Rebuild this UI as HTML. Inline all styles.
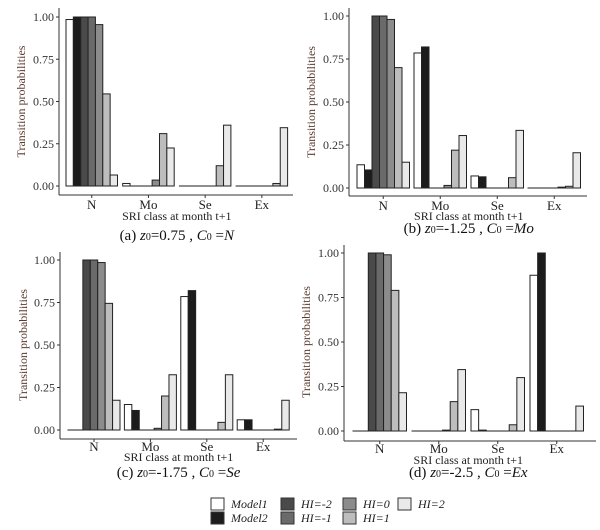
<!DOCTYPE html>
<html><head><meta charset="utf-8"><style>
body{margin:0;background:#fff;}
svg{display:block;font-family:"Liberation Serif",serif;}
</style></head><body>
<svg id="chart" width="600" height="530" viewBox="0 0 600 530"></svg>
<script>
const categories=["N","Mo","Se","Ex"];
const seriesNames=["Model1","Model2","HI=-2","HI=-1","HI=0","HI=1","HI=2"];
const yTicks=[0,0.25,0.5,0.75,1];
const yTickLabels=["0.00","0.25","0.50","0.75","1.00"];
const valuesA=[[0.985,1,1,1,0.955,0.545,0.065],[0.015,0,0,0,0.035,0.31,0.225],[0,0,0,0,0,0.12,0.36],[0,0,0,0,0,0.015,0.345]];
const valuesB=[[0.135,0.105,1,1,0.98,0.70,0.15],[0.785,0.82,0,0,0.015,0.22,0.305],[0.07,0.065,0,0,0,0.06,0.335],[0,0,0,0,0.005,0.01,0.205]];
const valuesC=[[0,0,1,1,0.985,0.745,0.175],[0.15,0.115,0,0,0.01,0.20,0.325],[0.785,0.82,0,0,0,0.045,0.325],[0.06,0.06,0,0,0,0.005,0.175]];
const valuesD=[[0,0,1,1,0.99,0.79,0.215],[0,0,0,0,0.005,0.165,0.345],[0.12,0.005,0,0,0,0.035,0.30],[0.875,1,0,0,0,0,0.14]];
const fills=["#ffffff","#1c1c1c","#4a4a4a","#6a6a6a","#8c8c8c","#bdbdbd","#e9e9e9"];
const NS="http://www.w3.org/2000/svg";
const svg=document.getElementById('chart');
function mk(tag,attrs,parent,text){const e=document.createElementNS(NS,tag);for(const k in attrs)e.setAttribute(k,attrs[k]);if(text!==undefined)e.textContent=text;(parent||svg).appendChild(e);return e;}
const panels=[
 {id:"a",vals:valuesA,ax:59,y1:17,y0:186,xaxY:195,right:293,top:8,g0:66,step:56.7,gw:51.5,ylx:25,catY:209,xlY:220,capY:240,cap:["(a) ","z","0","=0.75 , ","C","0"," =","N"]},
 {id:"b",vals:valuesB,ax:349,y1:16,y0:188,xaxY:196,right:587,top:8,g0:357,step:57,gw:52.5,ylx:315,catY:210,xlY:220,capY:233,cap:["(b) ","z","0","=-1.25 , ","C","0"," =","Mo"]},
 {id:"c",vals:valuesC,ax:60,y1:260,y0:430,xaxY:439,right:297,top:252,g0:68,step:56.4,gw:52,ylx:27,catY:451,xlY:461,capY:477,cap:["(c) ","z","0","=-1.75 , ","C","0"," =","Se"]},
 {id:"d",vals:valuesD,ax:344,y1:253,y0:431,xaxY:441,right:596,top:245,g0:353,step:59,gw:53.5,ylx:310,catY:453,xlY:464,capY:477,cap:["(d) ","z","0","=-2.5 , ","C","0"," =","Ex"]}
];
panels.forEach(p=>{
 const g=mk('g',{});
 
 
 const y=v=>p.y0-(p.y1-p.y0)*-v;
 const yy=v=>p.y0+(p.y1-p.y0)*v;
 const bw=p.gw/seriesNames.length;
 p.vals.forEach((grp,ci)=>{
  grp.forEach((v,si)=>{
   const x=p.g0+ci*p.step+si*bw;
   const r=mk('rect',{x:x,y:yy(v),width:bw,height:Math.max(p.y0-yy(v),0.01),fill:fills[si],stroke:"#222","stroke-width":1},g);
   
   
  });
  const t=mk('text',{x:p.g0+ci*p.step+p.gw/2,y:p.catY,"font-size":13,"text-anchor":"middle",fill:"#222"},g,categories[ci]);
  
  
  mk('line',{x1:p.g0+ci*p.step+p.gw/2,x2:p.g0+ci*p.step+p.gw/2,y1:p.xaxY,y2:p.xaxY+3,stroke:"#333"},g);
 });
 const ya=mk('line',{x1:p.ax,x2:p.ax,y1:p.top,y2:p.xaxY,stroke:"#333","stroke-width":1},g);
 
 
 const xa=mk('line',{x1:p.ax,x2:p.right,y1:p.xaxY,y2:p.xaxY,stroke:"#333","stroke-width":1},g);
 
 
 yTicks.forEach((v,i)=>{
  mk('line',{x1:p.ax-3,x2:p.ax,y1:yy(v),y2:yy(v),stroke:"#333"},g);
  const t=mk('text',{x:p.ax-5,y:yy(v)+4,"font-size":12,"text-anchor":"end",fill:"#333"},g,yTickLabels[i]);
  
  
 });
 const cy=(p.y0+p.y1)/2;
 const yl=mk('text',{x:p.ylx,y:cy,"font-size":12,"text-anchor":"middle",fill:"#5b3b2e",transform:`rotate(-90 ${p.ylx} ${cy})`},g,"Transition probabilities");
 
 
 const mid=p.g0+(p.step*3+p.gw)/2;
 const xl=mk('text',{x:mid,y:p.xlY,"font-size":12,"text-anchor":"middle",fill:"#222"},g,"SRI class at month t+1");
 
 
 const cap=mk('text',{x:mid,y:p.capY,"font-size":15,"text-anchor":"middle",fill:"#111"},g);
 
 
 p.cap.forEach((s,i)=>{
  const a={};
  if(i==1||i==4||i==7)a["font-style"]="italic";
  if(i==2||i==5){a["font-size"]=10;}
  mk('tspan',a,cap,s);
 });
});
// legend
const legend=mk('g',{});


const legPos=[[211,498],[211,512],[281,498],[281,512],[343,498],[343,512],[398,498]];
seriesNames.forEach((n,i)=>{
 const [x,yv]=legPos[i];
 const e=mk('g',{},legend);
 
 
 mk('rect',{x:x,y:yv,width:13,height:12,fill:fills[i],stroke:"#333","stroke-width":1},e);
 mk('text',{x:x+20,y:yv+10,"font-size":12,"font-style":"italic",fill:"#222"},e,n);
});
</script>
</body></html>
